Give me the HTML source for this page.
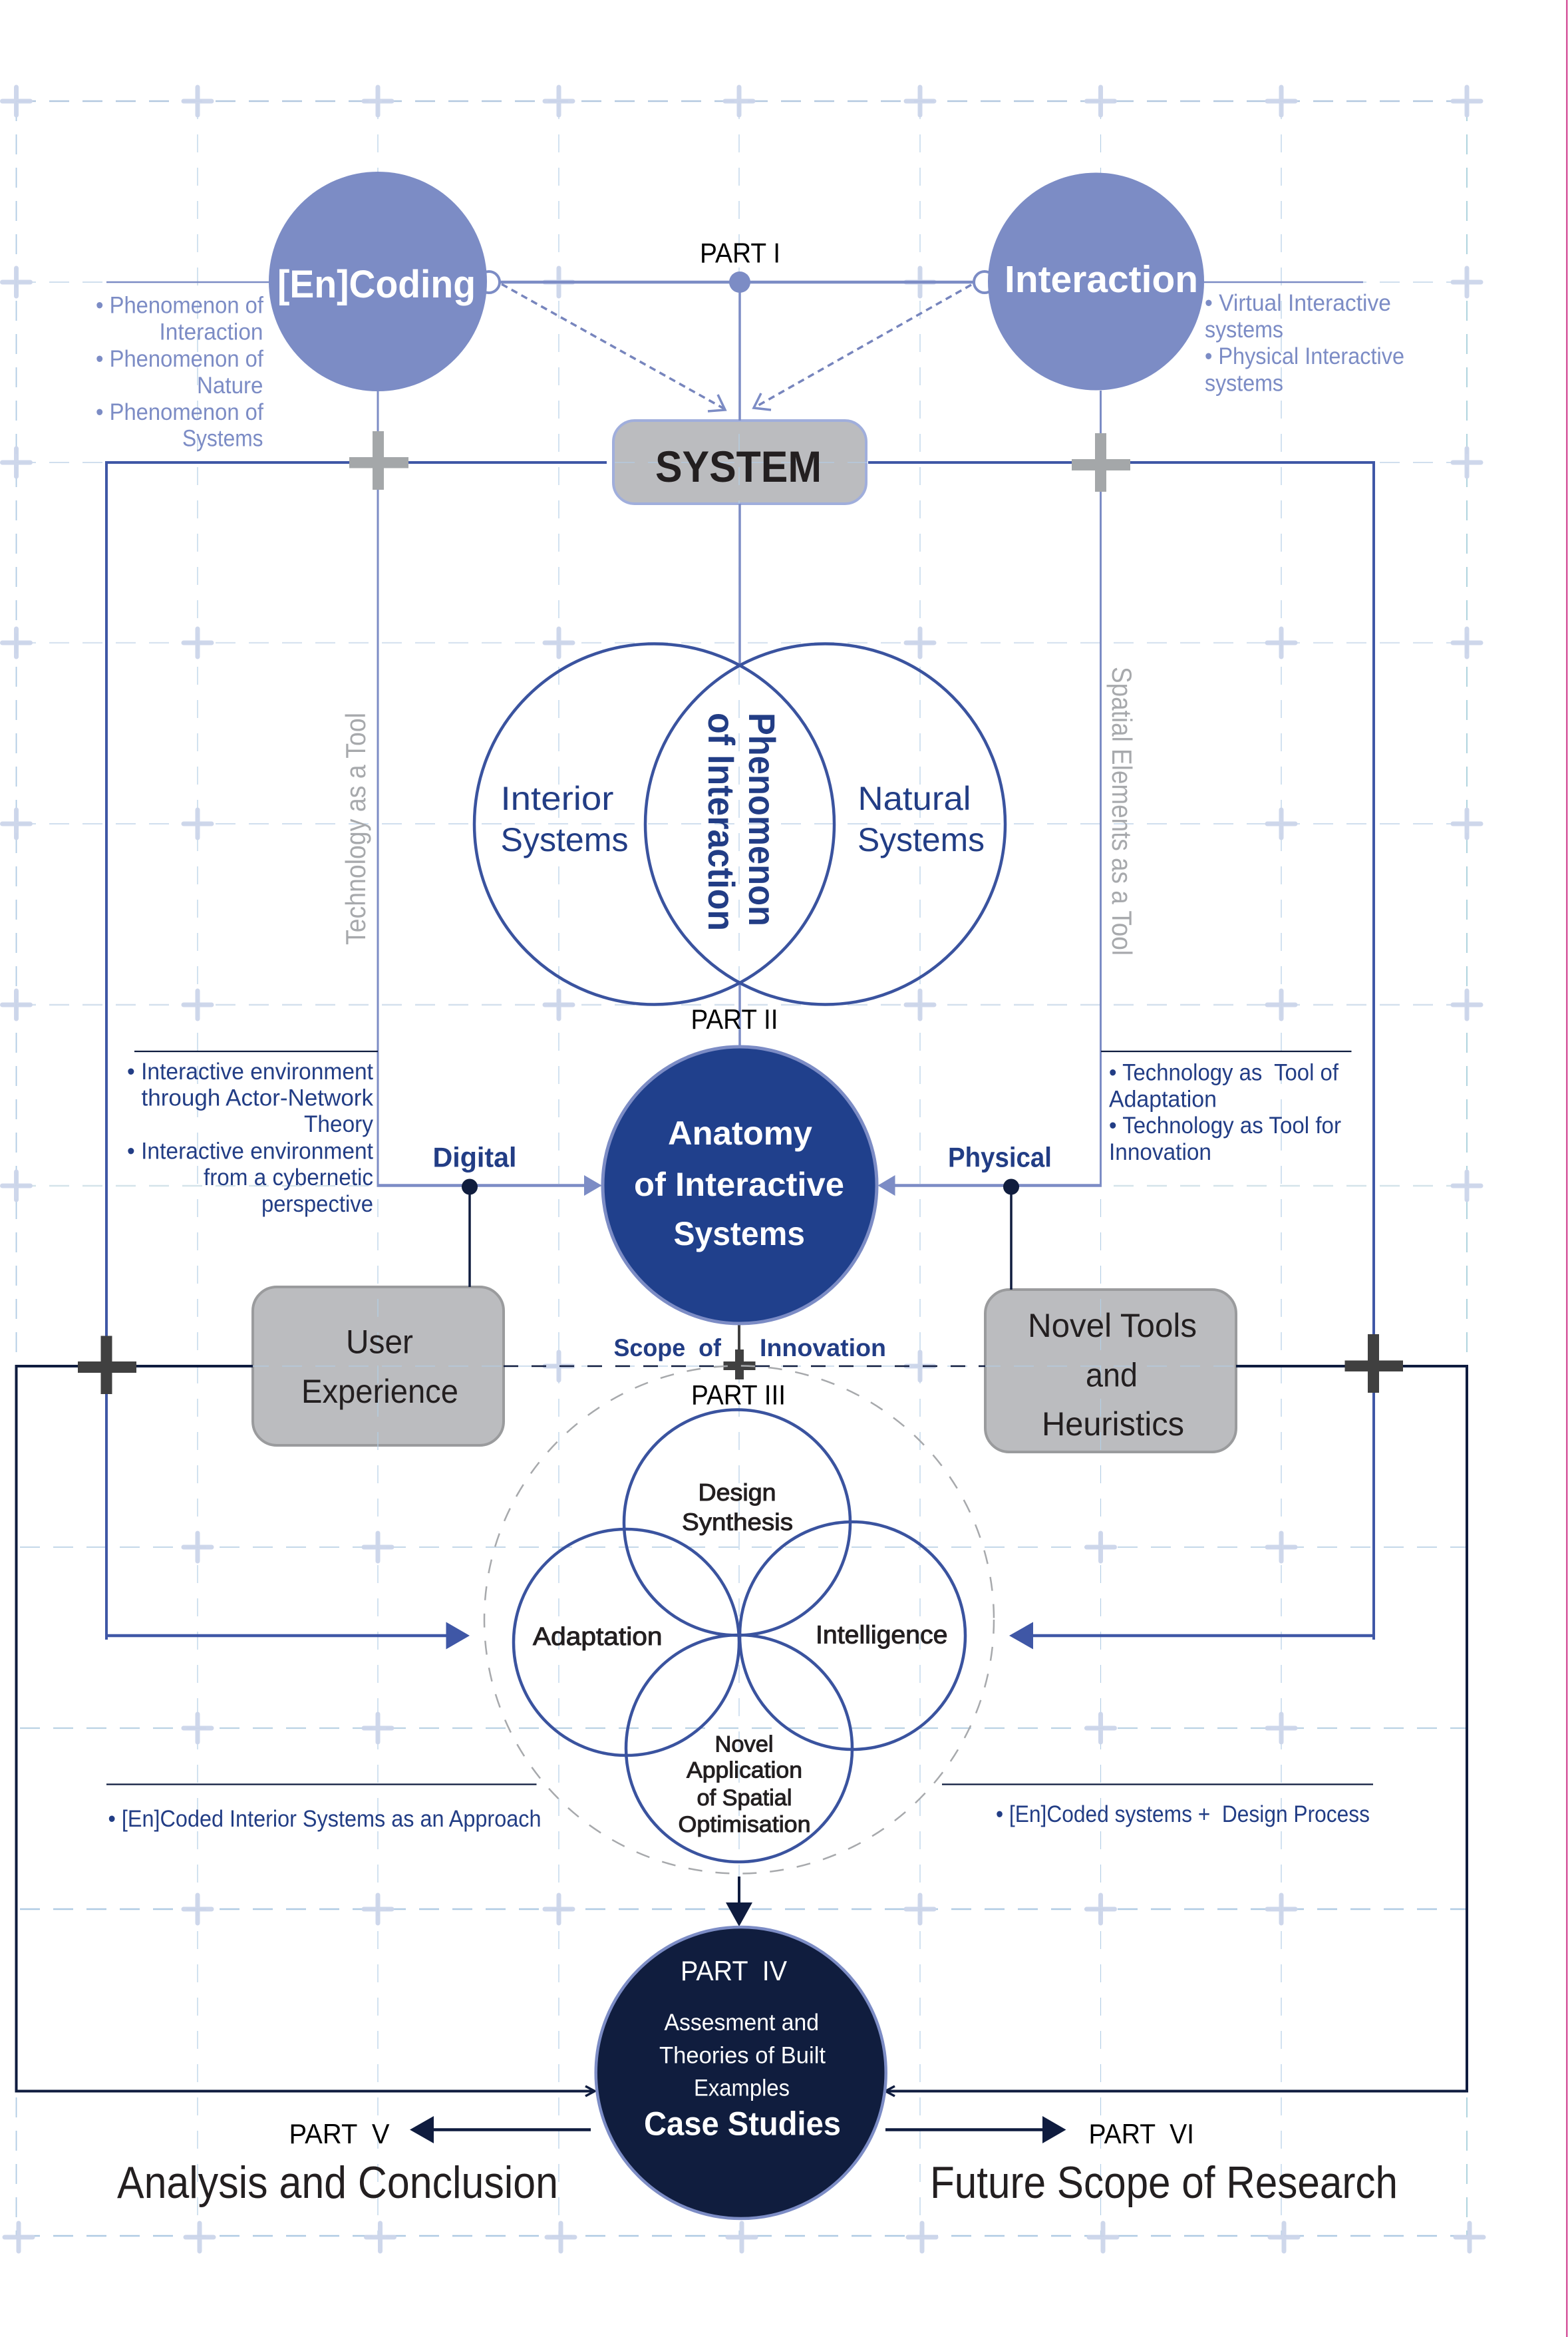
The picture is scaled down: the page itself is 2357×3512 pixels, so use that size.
<!DOCTYPE html>
<html lang="en">
<head>
<meta charset="utf-8">
<title>Anatomy of Interactive Systems</title>
<style>
html,body{margin:0;padding:0;background:#fff;width:2357px;height:3512px;overflow:hidden}
svg{display:block}
text{font-family:"Liberation Sans",sans-serif;white-space:pre}
.b{font-weight:700}
.m{stroke:#231f20;stroke-width:1px}
.d{fill:#231f20}
.k{fill:#000}
.w{fill:#fff}
.p{fill:#7c8cc5}
.n{fill:#223d85}
.g{fill:#a7a9ac}
</style>
</head>
<body>
<svg xmlns="http://www.w3.org/2000/svg" width="2357" height="3512" viewBox="0 0 2357 3512">
<defs>
<path id="c" d="M-21 0H21M0-21V21" fill="none" stroke="#ccd5ea" stroke-width="7" stroke-linecap="round"/>
</defs>
<rect width="2357" height="3512" fill="#fff"/>
<rect x="2354" y="0" width="2.5" height="3512" fill="#d6569b"/>

<!-- boxes under grid -->
<rect x="922" y="632" width="380" height="125" rx="32" fill="#bbbcbf" stroke="#a0aedc" stroke-width="4"/>
<rect x="380" y="1934" width="377" height="238" rx="36" fill="#bbbcbf" stroke="#9a9b9d" stroke-width="4"/>
<rect x="1481" y="1938" width="377" height="244" rx="36" fill="#bbbcbf" stroke="#9a9b9d" stroke-width="4"/>

<!-- grid -->
<g fill="none">
<g stroke-dasharray="30 20">
<path d="M24 152H2205" stroke="#b4c9e0" stroke-width="2.5"/>
<path d="M24 424H2205M24 695H2205M24 1238H2205M24 2053H2205" stroke="#b4cce3" stroke-width="1.2"/>
<path d="M24 966H2205" stroke="#d8e3f0" stroke-width="2.2"/>
<path d="M24 1510H2205" stroke="#d4e0ed" stroke-width="2.5"/>
<path d="M24 1782H2205" stroke="#d4e3ea" stroke-width="2.5"/>
<path d="M30 2325H2205" stroke="#bcd3e6" stroke-width="1.8"/>
<path d="M30 2597H2205" stroke="#bad2e4" stroke-width="2.2"/>
<path d="M30 2869H2205M30 3360H2205" stroke="#b0cbe4" stroke-width="2.5"/>
<path d="M24.5 152V3360" stroke="#b0cbe4" stroke-width="1.8"/>
<path d="M2205 152V3360" stroke="#a8cfda" stroke-width="1.8"/>
</g>
<path d="M297 152V3360M568 152V3360M840 152V3360M1111 152V3360M1383 152V3360M1654.5 152V3360M1926 152V3360" stroke="#b4cfe6" stroke-width="1.2" stroke-dasharray="27 23"/>
</g>

<!-- crosses -->
<g opacity=".95">
<use href="#c" x="24.5" y="152"/><use href="#c" x="297" y="152"/><use href="#c" x="568" y="152"/><use href="#c" x="840" y="152"/><use href="#c" x="1111" y="152"/><use href="#c" x="1383" y="152"/><use href="#c" x="1654.5" y="152"/><use href="#c" x="1926" y="152"/><use href="#c" x="2205" y="152"/>
<use href="#c" x="24.5" y="424"/><use href="#c" x="840" y="424"/><use href="#c" x="1383" y="424"/><use href="#c" x="2205" y="424"/>
<use href="#c" x="24.5" y="695"/><use href="#c" x="2205" y="695"/>
<use href="#c" x="24.5" y="966"/><use href="#c" x="297" y="966"/><use href="#c" x="840" y="966"/><use href="#c" x="1383" y="966"/><use href="#c" x="1926" y="966"/><use href="#c" x="2205" y="966"/>
<use href="#c" x="24.5" y="1238"/><use href="#c" x="297" y="1238"/><use href="#c" x="1926" y="1238"/><use href="#c" x="2205" y="1238"/>
<use href="#c" x="24.5" y="1510"/><use href="#c" x="297" y="1510"/><use href="#c" x="840" y="1510"/><use href="#c" x="1383" y="1510"/><use href="#c" x="1926" y="1510"/><use href="#c" x="2205" y="1510"/>
<use href="#c" x="24.5" y="1782"/><use href="#c" x="2205" y="1782"/>
<use href="#c" x="840" y="2053"/><use href="#c" x="1383" y="2053"/>
<use href="#c" x="297" y="2325"/><use href="#c" x="568" y="2325"/><use href="#c" x="1654.5" y="2325"/><use href="#c" x="1926" y="2325"/>
<use href="#c" x="297" y="2597"/><use href="#c" x="568" y="2597"/><use href="#c" x="1654.5" y="2597"/><use href="#c" x="1926" y="2597"/>
<use href="#c" x="297" y="2869"/><use href="#c" x="568" y="2869"/><use href="#c" x="840" y="2869"/><use href="#c" x="1383" y="2869"/><use href="#c" x="1654.5" y="2869"/><use href="#c" x="1926" y="2869"/>
<use href="#c" x="28" y="3362"/><use href="#c" x="300" y="3362"/><use href="#c" x="571.5" y="3362"/><use href="#c" x="843" y="3362"/><use href="#c" x="1115" y="3362"/><use href="#c" x="1386" y="3362"/><use href="#c" x="1658" y="3362"/><use href="#c" x="1930" y="3362"/><use href="#c" x="2209" y="3362"/>
</g>

<!-- connectors: light blue -->
<g fill="none" stroke="#7c8cc5">
<path d="M751 424H1464" stroke-width="4.5"/>
<path d="M160 424H404M1810 424H2049" stroke-width="2.5"/>
<path d="M1112 424V632M1112 757V1000M1112 1476V1572" stroke-width="3.5"/>
<path d="M568 588V1782M1654.5 587V1782" stroke-width="3"/>
<path d="M566.5 1781.5H880M1656 1781.5H1345" stroke-width="4.5"/>
<circle cx="735" cy="424" r="16" fill="#fff" stroke-width="4"/>
<circle cx="1480" cy="424" r="16" fill="#fff" stroke-width="4"/>
<path d="M754 427L1090 615M1460 428L1133 613" stroke="#7785bd" stroke-width="3.5" stroke-dasharray="10 7"/>
<path d="M1079 593L1090 616L1064 618M1144 591L1133 613L1159 616" stroke-width="3.5"/>
</g>
<circle cx="1112" cy="424" r="16" fill="#7c8cc5"/>
<path d="M904.6 1781.5L878 1766V1797ZM1319.4 1781.5L1345.5 1766V1797Z" fill="#7c8cc5"/>

<!-- connectors: medium blue -->
<g fill="none" stroke="#3f57a6">
<path d="M912 695H160V2464M1305 695H2065V2464" stroke-width="4"/>
<path d="M160 2458H672M2065 2458H1551" stroke-width="4.5"/>
</g>
<path d="M706 2458L670.5 2437.5V2478.5ZM1517 2458L1553 2437.5V2478.5Z" fill="#3f57a6"/>

<!-- navy connectors -->
<g fill="none" stroke="#0f1c3f">
<path d="M380 2053H24.5V3142.5H893M1858 2053H2205V3142.5H1333" stroke-width="4"/>
<path d="M757 2053H1481" stroke-width="2.5" stroke-dasharray="22 20"/>
<path d="M706 1783V1934M1520 1783V1938" stroke-width="3.5"/>
<path d="M202 1580H568M1655 1580H2031.5M160 2681.5H806.5M1416 2681.5H2064" stroke-width="2.2"/>
<path d="M1111 2820V2862" stroke-width="4"/>
<path d="M888 3200.5H650M1331 3200.5H1569" stroke-width="4.5"/>
<path d="M880 3135L894 3142.5L880 3150M1345 3135L1331 3142.5L1345 3150" stroke-width="3.5"/>
</g>
<path d="M1111 2895L1091 2859H1131ZM616 3200.5L652 3180V3221ZM1602.5 3200.5L1567 3180V3221Z" fill="#0f1c3f"/>
<circle cx="706" cy="1783.5" r="12" fill="#101d3e"/>
<circle cx="1520" cy="1783.5" r="12" fill="#101d3e"/>
<path d="M1111 1988V2030" stroke="#404040" stroke-width="4"/>

<!-- plus marks -->
<g fill="#a4a7a9">
<rect x="525" y="687" width="89" height="16.5"/><rect x="560" y="648" width="17" height="88"/>
<rect x="1611" y="690" width="88" height="17"/><rect x="1646" y="651" width="17" height="88"/>
</g>
<g fill="#404040">
<rect x="117" y="2046" width="88" height="17"/><rect x="151.5" y="2007.5" width="17" height="87.5"/>
<rect x="2021.5" y="2044.5" width="87.5" height="16.5"/><rect x="2056" y="2005" width="17" height="88"/>
<rect x="1087.5" y="2046" width="48" height="13"/><rect x="1105" y="2028" width="13" height="45"/>
</g>

<!-- circles -->
<ellipse cx="568" cy="423" rx="164" ry="165" fill="#7c8cc5"/>
<ellipse cx="1647.5" cy="423" rx="162.5" ry="163.5" fill="#7c8cc5"/>
<ellipse cx="1112" cy="1781" rx="206" ry="208" fill="#20408c" stroke="#7c8cc5" stroke-width="5"/>
<ellipse cx="1113.7" cy="3115" rx="218" ry="219" fill="#101d3e" stroke="#7c8cc5" stroke-width="4.5"/>
<g fill="none" stroke="#3a539f" stroke-width="4.5">
<ellipse cx="983.5" cy="1238.5" rx="270.5" ry="271"/>
<ellipse cx="1240.5" cy="1238.5" rx="270.5" ry="271"/>
<ellipse cx="1108" cy="2288" rx="170" ry="169.5"/>
<ellipse cx="941.5" cy="2468" rx="169.5" ry="170"/>
<ellipse cx="1281.5" cy="2458" rx="169.5" ry="171"/>
<ellipse cx="1111" cy="2627.5" rx="170" ry="170.5"/>
</g>
<ellipse cx="1111" cy="2434" rx="383" ry="381.5" fill="none" stroke="#a7a9ac" stroke-width="2.5" stroke-dasharray="21 20"/>

<!-- text -->
<text class="b w" x="417" y="447" font-size="58" textLength="298" lengthAdjust="spacingAndGlyphs">[En]Coding</text>
<text class="b w" x="1510" y="439" font-size="57" textLength="291" lengthAdjust="spacingAndGlyphs">Interaction</text>
<text class="k" x="1052" y="394.5" font-size="42" textLength="121" lengthAdjust="spacingAndGlyphs">PART I</text>
<text class="b d" x="985" y="724" font-size="66" textLength="250" lengthAdjust="spacingAndGlyphs">SYSTEM</text>

<text class="p" x="144" y="470.5" font-size="35" textLength="252" lengthAdjust="spacingAndGlyphs">• Phenomenon of</text>
<text class="p" x="239.5" y="510.5" font-size="35" textLength="156" lengthAdjust="spacingAndGlyphs">Interaction</text>
<text class="p" x="144" y="551" font-size="35" textLength="252" lengthAdjust="spacingAndGlyphs">• Phenomenon of</text>
<text class="p" x="296" y="591" font-size="35" textLength="99.5" lengthAdjust="spacingAndGlyphs">Nature</text>
<text class="p" x="144" y="631" font-size="35" textLength="252" lengthAdjust="spacingAndGlyphs">• Phenomenon of</text>
<text class="p" x="274" y="670.5" font-size="35" textLength="121.5" lengthAdjust="spacingAndGlyphs">Systems</text>

<text class="p" x="1811" y="467" font-size="35" textLength="280" lengthAdjust="spacingAndGlyphs">• Virtual Interactive</text>
<text class="p" x="1811" y="507" font-size="35" textLength="118" lengthAdjust="spacingAndGlyphs">systems</text>
<text class="p" x="1811" y="547" font-size="35" textLength="300" lengthAdjust="spacingAndGlyphs">• Physical Interactive</text>
<text class="p" x="1811" y="587.5" font-size="35" textLength="118" lengthAdjust="spacingAndGlyphs">systems</text>

<text class="g" transform="translate(549,1420) rotate(-90)" font-size="42" textLength="349" lengthAdjust="spacingAndGlyphs">Technology as a Tool</text>
<text class="g" transform="translate(1672,1002) rotate(90)" font-size="42" textLength="434" lengthAdjust="spacingAndGlyphs">Spatial Elements as a Tool</text>

<text class="n" x="752.5" y="1217" font-size="50" textLength="170" lengthAdjust="spacingAndGlyphs">Interior</text>
<text class="n" x="752.5" y="1279" font-size="50" textLength="192" lengthAdjust="spacingAndGlyphs">Systems</text>
<text class="n" x="1289.5" y="1217" font-size="50" textLength="170" lengthAdjust="spacingAndGlyphs">Natural</text>
<text class="n" x="1289" y="1279" font-size="50" textLength="191" lengthAdjust="spacingAndGlyphs">Systems</text>
<text class="b n" transform="translate(1126,1071) rotate(90)" font-size="56" textLength="321" lengthAdjust="spacingAndGlyphs">Phenomenon</text>
<text class="b n" transform="translate(1065,1071) rotate(90)" font-size="56" textLength="328" lengthAdjust="spacingAndGlyphs">of Interaction</text>

<text class="k" x="1038.5" y="1546" font-size="42" textLength="131" lengthAdjust="spacingAndGlyphs">PART II</text>

<text class="n" x="191" y="1622" font-size="35" textLength="370" lengthAdjust="spacingAndGlyphs">• Interactive environment</text>
<text class="n" x="212.5" y="1661.5" font-size="35" textLength="348.5" lengthAdjust="spacingAndGlyphs">through Actor-Network</text>
<text class="n" x="457" y="1701" font-size="35" textLength="104" lengthAdjust="spacingAndGlyphs">Theory</text>
<text class="n" x="191" y="1741.5" font-size="35" textLength="370" lengthAdjust="spacingAndGlyphs">• Interactive environment</text>
<text class="n" x="306" y="1781" font-size="35" textLength="255" lengthAdjust="spacingAndGlyphs">from a cybernetic</text>
<text class="n" x="393" y="1821" font-size="35" textLength="168" lengthAdjust="spacingAndGlyphs">perspective</text>

<text class="n" x="1667" y="1623.5" font-size="35" textLength="345" lengthAdjust="spacingAndGlyphs">• Technology as  Tool of</text>
<text class="n" x="1667" y="1663.5" font-size="35" textLength="162" lengthAdjust="spacingAndGlyphs">Adaptation</text>
<text class="n" x="1667" y="1703" font-size="35" textLength="349" lengthAdjust="spacingAndGlyphs">• Technology as Tool for</text>
<text class="n" x="1667" y="1743" font-size="35" textLength="154" lengthAdjust="spacingAndGlyphs">Innovation</text>

<text class="b n" x="650.5" y="1753.5" font-size="42" textLength="126" lengthAdjust="spacingAndGlyphs">Digital</text>
<text class="b n" x="1425" y="1753.5" font-size="42" textLength="156" lengthAdjust="spacingAndGlyphs">Physical</text>

<text class="b w" x="1004" y="1720" font-size="50" textLength="217" lengthAdjust="spacingAndGlyphs">Anatomy</text>
<text class="b w" x="953" y="1797" font-size="50" textLength="316" lengthAdjust="spacingAndGlyphs">of Interactive</text>
<text class="b w" x="1012.5" y="1871" font-size="50" textLength="197.5" lengthAdjust="spacingAndGlyphs">Systems</text>

<text class="d" x="520" y="2033.5" font-size="50" textLength="101" lengthAdjust="spacingAndGlyphs">User</text>
<text class="d" x="453" y="2108" font-size="50" textLength="236" lengthAdjust="spacingAndGlyphs">Experience</text>
<text class="d" x="1545" y="2009" font-size="50" textLength="254" lengthAdjust="spacingAndGlyphs">Novel Tools</text>
<text class="d" x="1632" y="2083.5" font-size="50" textLength="78" lengthAdjust="spacingAndGlyphs">and</text>
<text class="d" x="1566" y="2157" font-size="50" textLength="214" lengthAdjust="spacingAndGlyphs">Heuristics</text>

<text class="b n" x="922.5" y="2038" font-size="37" textLength="161.5" lengthAdjust="spacingAndGlyphs">Scope  of</text>
<text class="b n" x="1142" y="2038" font-size="37" textLength="190" lengthAdjust="spacingAndGlyphs">Innovation</text>
<text class="k" x="1039" y="2110.5" font-size="42" textLength="142" lengthAdjust="spacingAndGlyphs">PART III</text>

<text class="d m" x="1049.5" y="2255" font-size="36" textLength="117" lengthAdjust="spacingAndGlyphs">Design</text>
<text class="d m" x="1025" y="2299.5" font-size="36" textLength="167" lengthAdjust="spacingAndGlyphs">Synthesis</text>
<text class="d m" x="801" y="2472" font-size="38" textLength="194.5" lengthAdjust="spacingAndGlyphs">Adaptation</text>
<text class="d m" x="1226" y="2469.5" font-size="38" textLength="198.5" lengthAdjust="spacingAndGlyphs">Intelligence</text>
<text class="d m" x="1074.5" y="2632.5" font-size="34" textLength="88" lengthAdjust="spacingAndGlyphs">Novel</text>
<text class="d m" x="1032" y="2671.5" font-size="34" textLength="174" lengthAdjust="spacingAndGlyphs">Application</text>
<text class="d m" x="1047.5" y="2713" font-size="34" textLength="143" lengthAdjust="spacingAndGlyphs">of Spatial</text>
<text class="d m" x="1019.5" y="2753" font-size="34" textLength="199" lengthAdjust="spacingAndGlyphs">Optimisation</text>

<text class="n" x="162.5" y="2745" font-size="35" textLength="651" lengthAdjust="spacingAndGlyphs">• [En]Coded Interior Systems as an Approach</text>
<text class="n" x="1497" y="2738" font-size="35" textLength="562" lengthAdjust="spacingAndGlyphs">• [En]Coded systems +  Design Process</text>

<text class="w" x="1023" y="2976" font-size="42" textLength="160" lengthAdjust="spacingAndGlyphs">PART  IV</text>
<text class="w" x="998.5" y="3051" font-size="35" textLength="232.5" lengthAdjust="spacingAndGlyphs">Assesment and</text>
<text class="w" x="991" y="3100.5" font-size="35" textLength="250" lengthAdjust="spacingAndGlyphs">Theories of Built</text>
<text class="w" x="1043" y="3149.5" font-size="35" textLength="144" lengthAdjust="spacingAndGlyphs">Examples</text>
<text class="b w" x="968" y="3208.5" font-size="50" textLength="296" lengthAdjust="spacingAndGlyphs">Case Studies</text>

<text class="k" x="434.5" y="3221" font-size="42" textLength="151" lengthAdjust="spacingAndGlyphs">PART  V</text>
<text class="k" x="1636.5" y="3221" font-size="42" textLength="158.5" lengthAdjust="spacingAndGlyphs">PART  VI</text>
<text class="d" x="176" y="3303" font-size="68" textLength="663" lengthAdjust="spacingAndGlyphs">Analysis and Conclusion</text>
<text class="d" x="1398" y="3303" font-size="68" textLength="703" lengthAdjust="spacingAndGlyphs">Future Scope of Research</text>
</svg>
</body>
</html>
